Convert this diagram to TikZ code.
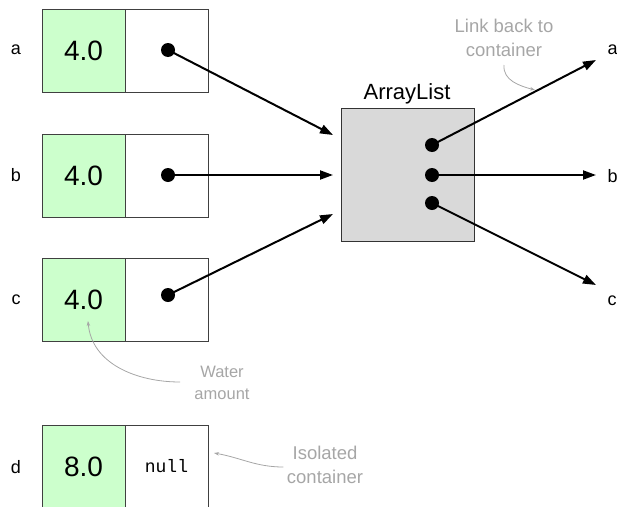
\documentclass[tikz,border=0pt]{standalone}
\usepackage{fontspec}
\setmainfont{Liberation Sans}
\setmonofont{Liberation Mono}
\usetikzlibrary{positioning,arrows.meta}
\definecolor{watergreen}{HTML}{CCFFCC}
\definecolor{listgray}{HTML}{D9D9D9}
\definecolor{notegray}{HTML}{A6A6A6}
\tikzset{
  valcell/.style={draw=black!75, line width=1pt, fill=watergreen, minimum width=83pt,
    minimum height=83pt, inner sep=0pt, font=\fontsize{28}{28}\selectfont},
  refcell/.style={draw=black!75, line width=1pt, fill=white, minimum width=83pt,
    minimum height=83pt, inner sep=0pt},
  dot/.style={circle, fill=black, minimum size=14pt, inner sep=0pt},
  varname/.style={font=\fontsize{18}{18}\selectfont},
  note/.style={text=notegray, align=center, font=\fontsize{18.5}{24}\selectfont},
  link/.style={line width=2pt, -{Triangle[length=13pt,width=9pt]}},
  notearrow/.style={notegray, line width=0.8pt, -{Stealth[length=5pt,width=3.5pt]}}
}
\begin{document}
\begin{tikzpicture}[x=1pt,y=-1pt]
\useasboundingbox (0,0) rectangle (617,506);
\clip (0,0) rectangle (617,506);
% containers
\node[valcell] (va) at (83.5,50.5) {4.0};
\node[refcell, right=-1pt of va] (pa) {};
\node[valcell] (vb) at (83.5,175.5) {4.0};
\node[refcell, right=-1pt of vb] (pb) {};
\node[valcell] (vc) at (83.5,299.5) {4.0};
\node[refcell, right=-1pt of vc] (pc) {};
\node[valcell] (vd) at (83.5,466.5) {8.0};
\node[refcell, right=-1pt of vd, font=\ttfamily\fontsize{18}{18}\selectfont] (pd) {null};
\node[varname] (na) at (16,50) {a};
\node[varname] (nb) at (16,175) {b};
\node[varname] (nc) at (16,300) {c};
\node[varname] (nd) at (16,467) {d};
\node[dot] (da) at (168,50) {};
\node[dot] (db) at (168,175) {};
\node[dot] (dc) at (168,295) {};
% the list
\node[draw=black!80, line width=1pt, fill=listgray, minimum size=133pt, inner sep=0pt] (list) at (407.5,174.5) {};
\node[font=\fontsize{22}{22}\selectfont] (listname) at (407,94) {ArrayList};
\node[dot] (la) at (432,145) {};
\node[dot] (lb) at (432,175) {};
\node[dot] (lc) at (432,203) {};
\coordinate (ina) at (333,135);
\coordinate (inb) at (333,175);
\coordinate (inc) at (333,214);
\coordinate (outa) at (596,60);
\coordinate (outb) at (596,175);
\coordinate (outc) at (596,285);
\node[varname, anchor=west] (ra) at (604,50) {a};
\node[varname, anchor=west] (rb) at (604,176) {b};
\node[varname, anchor=west] (rc) at (604,301) {c};
\draw[link] (da.center) -- (ina);
\draw[link] (db.center) -- (inb);
\draw[link] (dc.center) -- (inc);
\draw[link] (la.center) -- (outa);
\draw[link] (lb.center) -- (outb);
\draw[link] (lc.center) -- (outc);
% notes
\node[note] (linknote) at (504,38) {Link back to\\container};
\node[note, font=\fontsize{16.5}{22}\selectfont] (waternote) at (222,383) {Water\\amount};
\node[note] (isonote) at (325,465) {Isolated\\container};
\coordinate (linkend) at (535,90);
\coordinate (waterend) at (88,321);
\coordinate (isoend) at (214,453);
\draw[notearrow] (504,65) to[out=-95,in=165] (linkend);
\draw[notearrow] (180,382) to[out=180,in=-85] (waterend);
\draw[notearrow] (isonote.west) ++(0,2) to[out=180,in=-10] (isoend);
\end{tikzpicture}
\end{document}
